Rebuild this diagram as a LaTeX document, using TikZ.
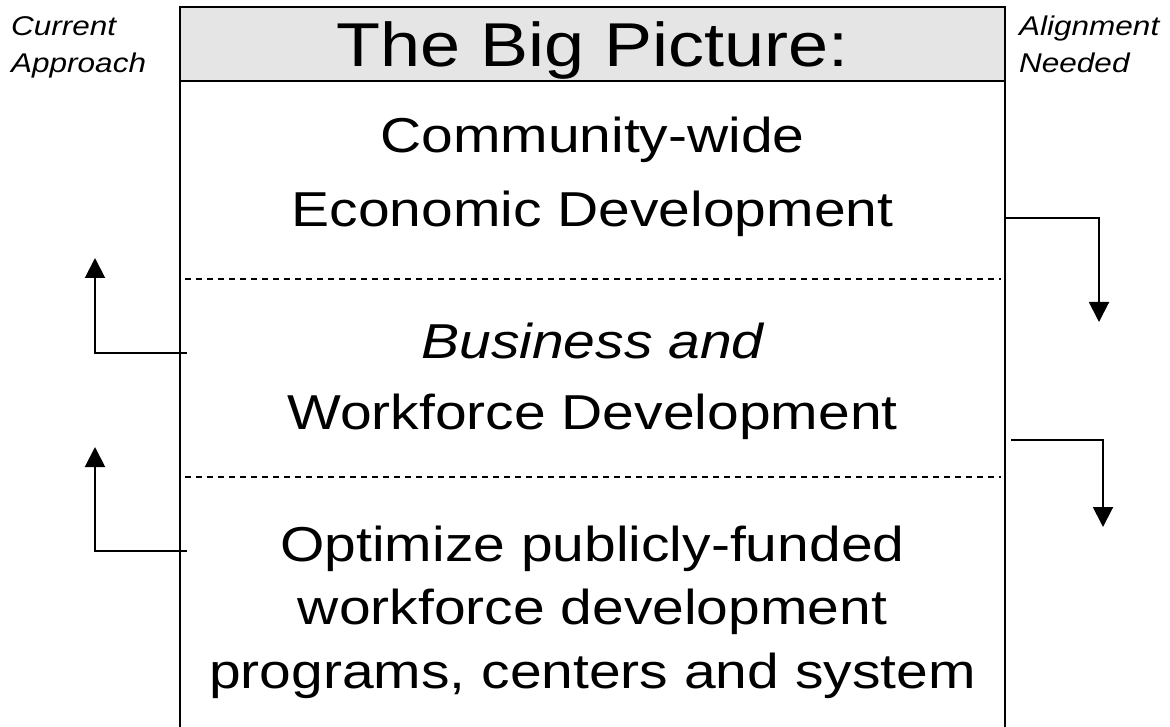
\documentclass[tikz,border=0pt]{standalone}
\usepackage{graphicx}
\usepackage{fontspec}
\setmainfont{Liberation Sans}
\usetikzlibrary{arrows.meta}
\definecolor{bandgray}{RGB}{229,229,229}
\newcommand{\vsq}[1]{\scalebox{1}[0.86]{#1}}
\begin{document}
\begin{tikzpicture}[x=1pt,y=-1pt,
  body/.style={anchor=base, inner sep=0pt, font=\fontsize{57}{68}\selectfont},
  ttl/.style={anchor=base, inner sep=0pt, font=\fontsize{72}{86}\selectfont},
  side/.style={anchor=base west, inner sep=0pt, font=\fontsize{31.5}{38}\selectfont\itshape},
  frame/.style={line width=2.5pt},
  sepline/.style={line width=1.5pt, dash pattern=on 6pt off 5pt},
  flow/.style={line width=2pt, -{Triangle[width=20pt,length=20pt]}}]
\useasboundingbox (0,0) rectangle (1170,727);
% frame and title band
\fill[bandgray] (180,7) rectangle (1005,81);
\draw[frame] (180,760) -- (180,7) -- (1005,7) -- (1005,760);
\draw[frame] (180,81) -- (1005,81);
% dashed separators
\coordinate (d1l) at (185,279);
\coordinate (d1r) at (1001,279);
\coordinate (d2l) at (185,477);
\coordinate (d2r) at (1001,477);
\draw[sepline] (d1l) -- (d1r);
\draw[sepline] (d2l) -- (d2r);
% texts
\node[ttl] (title) at (592.5,67) {\vsq{The Big Picture:}};
\node[body] (a1) at (592.5,153) {\vsq{Community-wide}};
\node[body] (a2) at (592.5,227) {\vsq{Economic Development}};
\node[body] (b1) at (592.5,359) {\vsq{\itshape Business and}};
\node[body] (b2) at (592.5,429) {\vsq{Workforce Development}};
\node[body] (c1) at (592.5,561) {\vsq{Optimize publicly-funded}};
\node[body] (c2) at (592.5,624) {\vsq{workforce development}};
\node[body] (c3) at (592.5,688) {\vsq{programs, centers and system}};
\node[side] (cur1) at (11,36) {\vsq{Current}};
\node[side] (cur2) at (11,73) {\vsq{Approach}};
\node[side] (al1) at (1019,36) {\vsq{Alignment}};
\node[side] (al2) at (1019,73) {\vsq{Needed}};
% left arrows
\coordinate (l1s) at (187,353);
\coordinate (l1c) at (95,353);
\coordinate (l1e) at (95,258);
\coordinate (l2s) at (187,551);
\coordinate (l2c) at (95,551);
\coordinate (l2e) at (95,447);
\draw[flow] (l1s) -- (l1c) -- (l1e);
\draw[flow] (l2s) -- (l2c) -- (l2e);
% right arrows
\coordinate (r1s) at (1006,218);
\coordinate (r1c) at (1099,218);
\coordinate (r1e) at (1099,322);
\coordinate (r2s) at (1011,440);
\coordinate (r2c) at (1103,440);
\coordinate (r2e) at (1103,527);
\draw[flow] (r1s) -- (r1c) -- (r1e);
\draw[flow] (r2s) -- (r2c) -- (r2e);
\end{tikzpicture}
\end{document}
